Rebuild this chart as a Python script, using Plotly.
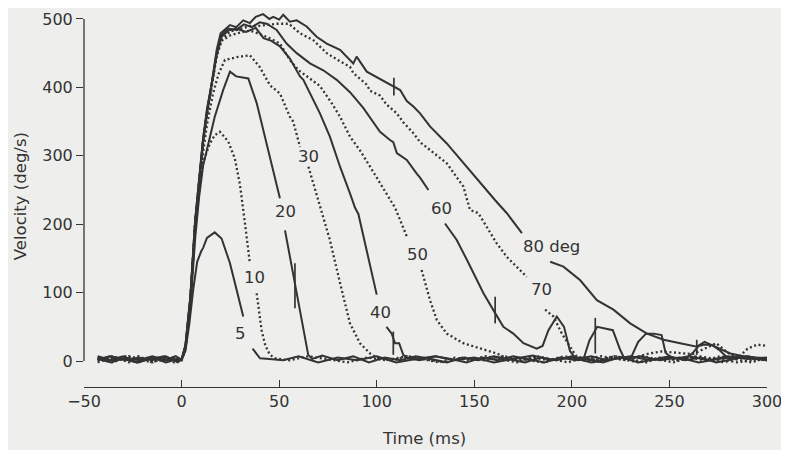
import plotly.graph_objects as go

# ---- data: (time ms, velocity deg/s); None marks a gap left for a label ----
C5 = [(-43,3),(-36,-2),(-29,5),(-22,1),(-15,7),(-8,1),(-2,3),(0,2),(2,15),(4,55),(6,105),(8,145),(10,160),(11,165),(13,180),(17,188),(20.5,179),(24.8,143),(28.2,104),(31.6,65), None,
      (36.4,18),(38.5,10),(40.2,4),(45,3),(52,1),(60,7),(70,-2),(80,5),(90,1),(100,7),(110,-2),(120,3),(130,7),(140,1),(150,5),(160,-2),(170,3),(180,8),(190,1),(200,5),(210,-2),(220,3),(230,7),(240,1),(250,5),(258,3),(262,12),(265,22),(268,24),(272,23),(276,15),(280,4),(290,7),(300,1)]
C10 = [(-43,1),(-35,7),(-27,-2),(-19,5),(-11,1),(-4,5),(0,1),(2,18),(4.5,85),(6.8,200),(9,250),(11,290),(14.5,318),(17,330),(19.6,335),(23.9,321),(27.3,296),(29.9,258),(32.5,201),(35,143), None,
       (38.5,99),(41,45),(43,22),(45.3,9),(48,4),(55,1),(65,7),(75,3),(85,-2),(95,5),(105,1),(115,7),(125,3),(135,-2),(145,5),(155,1),(165,7),(175,3),(185,-2),(195,5),(205,1),(215,7),(225,3),(235,-2),(245,5),(255,1),(265,7),(275,3),(285,-2),(300,5)]
C20 = [(-43,5),(-37,1),(-30,7),(-23,-2),(-16,3),(-9,7),(-3,1),(0,2),(2,18),(4.5,80),(7,180),(9,240),(11,285),(12.8,308),(15,335),(17,357),(21.3,396),(24.8,423),(28,416),(34.2,413),(38.5,377),(43.6,318),(48.7,255),(50.4,238), None,
       (53,191),(57.2,128),(61.5,65),(64.9,9),(67,3),(72,8),(80,1),(88,7),(96,-2),(104,5),(112,1),(120,7),(128,3),(136,-2),(144,5),(152,1),(160,7),(168,3),(176,-2),(184,5),(192,1),(200,7),(208,3),(216,-2),(224,5),(230,3),(234,28),(238,40),(242,40),(246,38),(248,12),(252,3),(260,7),(270,1),(280,7),(290,3),(300,5)]
C30 = [(-43,-2),(-36,5),(-29,1),(-22,7),(-15,-2),(-8,5),(-2,1),(0,1),(2,18),(4.5,85),(7,195),(9,255),(11,305),(13,345),(16,390),(19,420),(22.2,440),(28,444),(35,447),(40,430),(45.3,403),(50.4,391),(55.5,357),(57.2,350),(60.7,313), None,
       (65,284),(68.4,250),(70.9,228),(76,177),(81.2,114),(86.3,55),(91.4,26),(96.6,11),(100,5),(108,1),(116,7),(124,3),(132,-2),(140,5),(148,1),(156,7),(164,3),(172,-2),(180,5),(188,1),(196,7),(204,3),(212,-2),(220,5),(228,1),(236,7),(244,3),(252,-2),(260,5),(268,1),(276,7),(284,3),(292,-2),(300,5)]
C40 = [(-43,7),(-36,1),(-29,3),(-22,-2),(-15,5),(-8,-2),(-2,3),(0,2),(2,22),(4.5,92),(7,205),(9,262),(11,322),(13,365),(15.4,402),(18,448),(20.5,474),(24,483),(28,486),(33,481),(38,487),(42,472),(46,468),(50.4,460),(55.5,442),(60.7,416),(62.4,411),(67.5,382),(70.9,362),(76,328),(81.2,284),(86.3,245),(88.9,224),(90.6,215),(94.9,162),(100,97), None,
       (105,50),(107.7,40),(109.4,26),(111.5,26),(113.6,9),(116,4),(122,1),(130,7),(138,3),(146,-2),(154,5),(162,1),(170,7),(178,3),(186,-2),(194,5),(202,1),(206,3),(209,30),(213,50),(217,47),(221,45),(224.8,16),(227,3),(235,7),(245,1),(255,5),(265,-2),(275,3),(285,7),(300,1)]
C50 = [(-43,3),(-35,-2),(-27,7),(-19,1),(-11,5),(-4,-2),(0,2),(2,20),(4.5,88),(7,200),(9,258),(11,318),(13,360),(15.4,398),(18,445),(20.5,468),(25,476),(30,480),(35,483),(40,478),(45,472),(50.4,464),(55.5,440),(60,425),(65.8,413),(70.9,402),(76.9,377),(81.2,357),(86.3,328),(91.4,308),(96.6,284),(101.7,260),(106.8,235),(109.4,224),(112,206),(115.4,182), None,
       (123,133),(127.3,89),(130.8,60),(135.9,40),(144.4,26),(153,18),(161.5,11),(166,5),(174,1),(182,7),(190,3),(198,-2),(206,5),(214,1),(222,7),(230,3),(238,-2),(246,5),(254,1),(262,7),(270,3),(278,-2),(286,5),(300,1)]
C60 = [(-43,1),(-37,7),(-30,3),(-23,-2),(-16,5),(-9,1),(-3,7),(0,2),(2,22),(4.5,90),(7,202),(9,262),(11,322),(13,362),(15.4,402),(18,450),(20.5,477),(24,486),(28,484),(32,492),(36,488),(40,495),(43.6,493),(48.7,484),(53.8,464),(59,450),(65.8,435),(72.6,425),(79.5,411),(86.3,393),(93.1,370),(100,343),(101.7,335),(106.8,323),(108.5,320),(110.3,304),(115.4,294),(120.5,274),(122.2,268),(126.5,250), None,
       (135,201),(141,177),(146.2,148),(149.6,128),(154.7,99),(160.7,70),(164.9,50),(170,40),(175.2,26),(182,18),(185,22),(188,45),(192.3,65),(196,50),(199,15),(202,3),(210,7),(218,1),(226,5),(234,-2),(242,3),(250,7),(258,1),(266,5),(274,-2),(282,3),(290,7),(300,1)]
C70 = [(-43,5),(-36,1),(-29,7),(-22,3),(-15,-2),(-8,5),(-2,1),(0,2),(2,20),(4.5,90),(7,203),(9,262),(11,320),(13,362),(15.4,400),(18,447),(20.5,470),(25,482),(30,485),(35,490),(40,490),(45,492),(48.7,493),(55,493),(60.7,479),(67.5,469),(74.4,450),(81.2,438),(86.3,430),(88,421),(94.9,404),(96.6,395),(101.7,388),(105,375),(110.3,362),(113.6,349),(118.8,333),(122.2,320),(127.3,308),(135.9,289),(144.4,255),(147.8,221),(152.1,216),(156.4,196),(161.5,172),(166.7,152),(171.8,138),(176.9,123), None,
       (186.3,75),(190.6,65),(194.9,40),(199.1,21),(202,8),(206,4),(214,1),(222,7),(230,3),(238,10),(246,14),(254,12),(262,10),(268,18),(274,26),(280,12),(285,4),(290,18),(295,24),(300,22)]
C80 = [(-43,3),(-36,7),(-29,1),(-22,5),(-15,1),(-8,7),(-2,-2),(0,2),(2,24),(4.5,95),(7,208),(9,265),(11,325),(13,368),(15.4,405),(18,455),(20,479),(24.8,491),(28,488),(31.6,498),(35,494),(38,503),(41.8,507),(45,500),(47,503),(50,499),(52.1,506),(55.5,496),(59,498),(64.1,489),(69.2,474),(74.4,464),(81.2,455),(88,435),(89.7,445),(94.9,423),(100,415),(105.1,408),(108.5,402),(112,396),(115.4,380),(118.8,372),(122.2,362),(127.3,343),(135.9,318),(144.4,289),(153,260),(160.7,235),(166.7,216),(174.4,187), None,
       (188.9,145),(195.7,138),(204.3,118),(212.8,89),(221.3,75),(229.9,55),(238.5,40),(247,31),(255.5,26),(264.1,21),(268,28),(272.6,22),(281.2,11),(289.7,6),(300,4)]

CURVES = [C5, C10, C20, C30, C40, C50, C60, C70, C80]
DOTTED = [False, True, False, True, False, True, False, True, False]

# short vertical end-of-movement marks
MARK_T = [58.1, 108.5, 108.8, 160.7, 212, 264]
MARK_LO = [77, 9, 388, 55, 11, 9]
MARK_HI = [143, 43, 414, 94, 63, 31]

LABEL_TEXT = ["5", "10", "20", "30", "40", "50", "60", "70", "80 deg"]
LABEL_T = [30, 37.6, 53.5, 65, 101.7, 121, 133.3, 184.6, 189.7]
LABEL_V = [40.5, 122, 218, 299, 71, 155, 223, 104, 167]

X_TICKS = [-50, 0, 50, 100, 150, 200, 250, 300]
X_TICKTEXT = ["\u221250", "0", "50", "100", "150", "200", "250", "300"]
Y_TICKS = [0, 100, 200, 300, 400, 500]

INK = "#333333"
BG = "#eeeeec"
FONT = "DejaVu Sans"

fig = go.Figure()
for pts, dotted in zip(CURVES, DOTTED):
    xs = [p[0] if p is not None else None for p in pts]
    ys = [p[1] if p is not None else None for p in pts]
    if dotted:
        line = dict(color=INK, width=2.3, dash="2px,2.6px")
    else:
        line = dict(color=INK, width=2.0)
    fig.add_trace(go.Scatter(x=xs, y=ys, mode="lines", line=line,
                             connectgaps=False, showlegend=False, hoverinfo="skip"))

mx, my = [], []
for t, lo, hi in zip(MARK_T, MARK_LO, MARK_HI):
    mx += [t, t, None]
    my += [lo, hi, None]
fig.add_trace(go.Scatter(x=mx, y=my, mode="lines", line=dict(color=INK, width=1.7),
                         showlegend=False, hoverinfo="skip"))

for txt, t, v in zip(LABEL_TEXT, LABEL_T, LABEL_V):
    fig.add_annotation(x=t, y=v, text=txt, showarrow=False, xanchor="center", yanchor="middle",
                       font=dict(family=FONT, size=16.5, color=INK))

# axis titles
fig.add_annotation(xref="paper", yref="y", x=-0.0937, y=241, text="Velocity (deg/s)", textangle=-90,
                   showarrow=False, xanchor="center", yanchor="middle",
                   font=dict(family=FONT, size=16.5, color=INK))
fig.add_annotation(xref="x", yref="paper", x=124.3, y=-0.1346, text="Time (ms)",
                   showarrow=False, xanchor="center", yanchor="middle",
                   font=dict(family=FONT, size=16.5, color=INK))

# y axis line spans only 0..500
fig.add_shape(type="line", xref="paper", yref="y", x0=0, x1=0, y0=0, y1=500,
              line=dict(color=INK, width=1.3))

# the page body has an 8px margin, so the figure is sized to end at the window edge
fig.update_layout(
    width=781, height=442, autosize=False,
    margin=dict(l=76, r=22, t=0, b=63, pad=0),
    paper_bgcolor=BG, plot_bgcolor=BG,
    font=dict(family=FONT, size=16, color=INK),
    xaxis=dict(range=[-50, 300], tickvals=X_TICKS, ticktext=X_TICKTEXT,
               showline=True, linecolor=INK, linewidth=1.3, ticks="inside", ticklen=7,
               tickcolor=INK, tickwidth=1.3, showgrid=False, zeroline=False,
               tickfont=dict(family=FONT, size=16, color=INK)),
    yaxis=dict(range=[-38, 516], tickvals=Y_TICKS, showline=False, ticks="outside", ticklen=7,
               tickcolor=INK, tickwidth=1.3, showgrid=False, zeroline=False,
               tickfont=dict(family=FONT, size=16, color=INK)),
)

fig.write_html("out.html")
